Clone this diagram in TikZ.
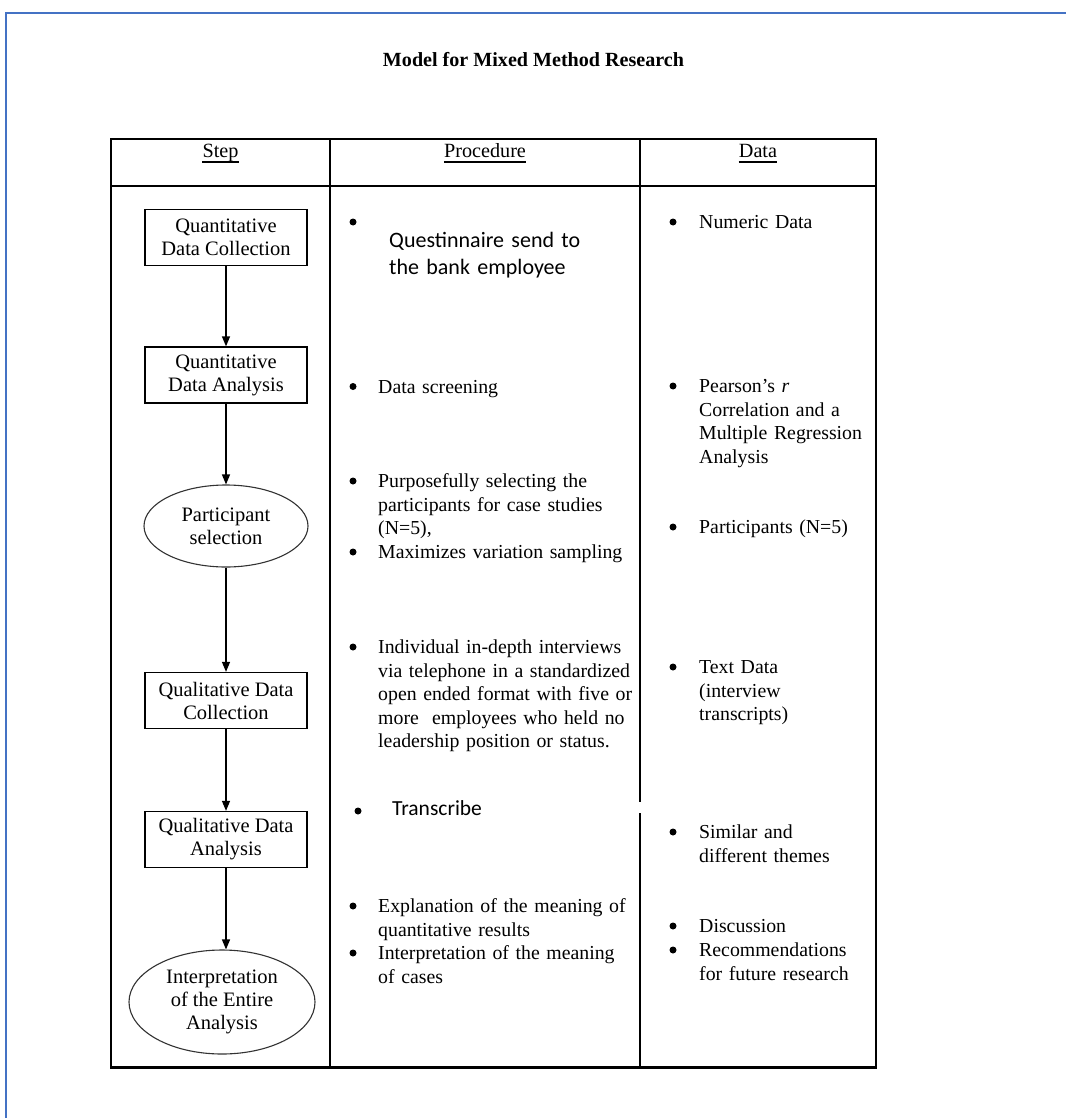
\documentclass[tikz,border=0pt]{standalone}
\usepackage{fontspec}
\setmainfont{Liberation Serif}
\newfontfamily\calfont{Carlito}
\usetikzlibrary{arrows.meta,shapes.geometric}
\definecolor{wordblue}{HTML}{4472C4}
\begin{document}
\begin{tikzpicture}[x=1pt,y=-1pt,
  stepfont/.style={font=\fontsize{20.5}{23}\selectfont},
  sbox/.style={draw, line width=1.3pt, minimum width=162pt, minimum height=56pt, inner sep=0pt, align=center, stepfont},
  sell/.style={ellipse, draw=black!80, line width=1.1pt, inner sep=0pt, align=center, stepfont},
  flow/.style={line width=1.3pt, -{Triangle[length=10pt,width=8pt]}},
  gridline/.style={line width=1.3pt},
  itemtxt/.style={anchor=base west, inner sep=0pt, align=left, font=\fontsize{19.8}{23.6}\selectfont},
  proctxt/.style={itemtxt, text width=285pt},
  datatxt/.style={itemtxt, text width=190pt},
  sanstxt/.style={anchor=base west, inner sep=0pt, align=left, text width=240pt},
  bul/.style={circle, fill=black, inner sep=0pt, minimum size=7pt},
  hdr/.style={anchor=base, inner sep=0pt, font=\fontsize{20.2}{23}\selectfont},
]
\useasboundingbox (0,0) rectangle (1066,1118);
\fill[white] (0,0) rectangle (1066,1118);
% page border
\draw[wordblue, line width=2.5pt] (6,1118) -- (6,13) -- (1066,13);
% title
\node (title) [anchor=base, inner sep=0pt, font=\bfseries\fontsize{20.1}{23}\selectfont] at (533.5,67) {Model for Mixed Method Research};
% table
\draw[gridline] (111,139) rectangle (876,1067);
\draw[line width=2.5pt] (110.4,1067.6) -- (876.6,1067.6);
\draw[gridline] (111,186) -- (876,186);
\draw[gridline] (330,139) -- (330,1067);
\draw[gridline] (640,139) -- (640,802);
\draw[gridline] (640,813) -- (640,1067);
% headers
\node[hdr] (hStep) at (220.5,158) {Step};
\node[hdr] (hProc) at (485,158) {Procedure};
\node[hdr] (hData) at (758,158) {Data};
\foreach \h in {hStep,hProc,hData}
  \draw[line width=1.1pt] ([yshift=-4pt]\h.base west) -- ([yshift=-4pt]\h.base east);
% steps
\node[sbox] (s1) at (226,237.5) {Quantitative\\Data Collection};
\node[sbox] (s2) at (226,375) {Quantitative\\Data Analysis};
\node[sell, minimum width=164pt, minimum height=82pt] (s3) at (226,526) {Participant\\selection};
\node[sbox] (s4) at (226,700.5) {Qualitative Data\\Collection};
\node[sbox] (s5) at (226,839.5) {Qualitative Data\\Analysis};
\node[sell, minimum width=186pt, minimum height=104pt] (s6) at (222,1002) {Interpretation\\of the Entire\\Analysis};
\draw[flow] (s1) -- (s2);
\draw[flow] (s2) -- (s3);
\draw[flow] (s3) -- (s4);
\draw[flow] (s4) -- (s5);
\draw[flow] (s5.south) -- (s5.south |- s6.north);
% procedure column
\node[bul] (pb1) at (353,222) {};
\node[sanstxt, font=\calfont\fontsize{22}{27}\selectfont] (p1) at (389,247) {Questinnaire send to\\the bank employee};
\node[bul] (pb2) at (353,386.5) {};
\node[proctxt] (p2) at (378,393) {Data screening};
\node[bul] (pb3) at (353,481) {};
\node[proctxt] (p3) at (378,487.5) {Purposefully selecting the\\participants for case studies\\(N=5),};
\node[bul] (pb4) at (353,552) {};
\node[proctxt] (p4) at (378,558.5) {Maximizes variation sampling};
\node[bul] (pb5) at (353,647) {};
\node[proctxt] (p5) at (378,653.5) {Individual in-depth interviews\\via telephone in a standardized\\open ended format with five or\\more \ employees who held no\\leadership position or status.};
\node[bul] (pb6) at (358,811) {};
\node[sanstxt, font=\calfont\fontsize{21.5}{26}\selectfont] (p6) at (392,815) {Transcribe};
\node[bul] (pb7) at (353,906) {};
\node[proctxt] (p7) at (378,912.5) {Explanation of the meaning of\\quantitative results};
\node[bul] (pb8) at (353,953) {};
\node[proctxt] (p8) at (378,959.5) {Interpretation of the meaning\\of cases};
% data column
\node[bul] (db1) at (673,222) {};
\node[datatxt] (d1) at (699,228.5) {Numeric Data};
\node[bul] (db2) at (673,386) {};
\node[datatxt] (d2) at (699,392.5) {Pearson’s \textit{r}\\Correlation and a\\Multiple Regression\\Analysis};
\node[bul] (db3) at (673,527) {};
\node[datatxt] (d3) at (699,533.5) {Participants (N=5)};
\node[bul] (db4) at (673,667) {};
\node[datatxt] (d4) at (699,673.5) {Text Data\\(interview\\transcripts)};
\node[bul] (db5) at (673,832) {};
\node[datatxt] (d5) at (699,838.5) {Similar and\\different themes};
\node[bul] (db6) at (673,926) {};
\node[datatxt] (d6) at (699,932.5) {Discussion};
\node[bul] (db7) at (673,950) {};
\node[datatxt] (d7) at (699,956.5) {Recommendations\\for future research};
\end{tikzpicture}
\end{document}
